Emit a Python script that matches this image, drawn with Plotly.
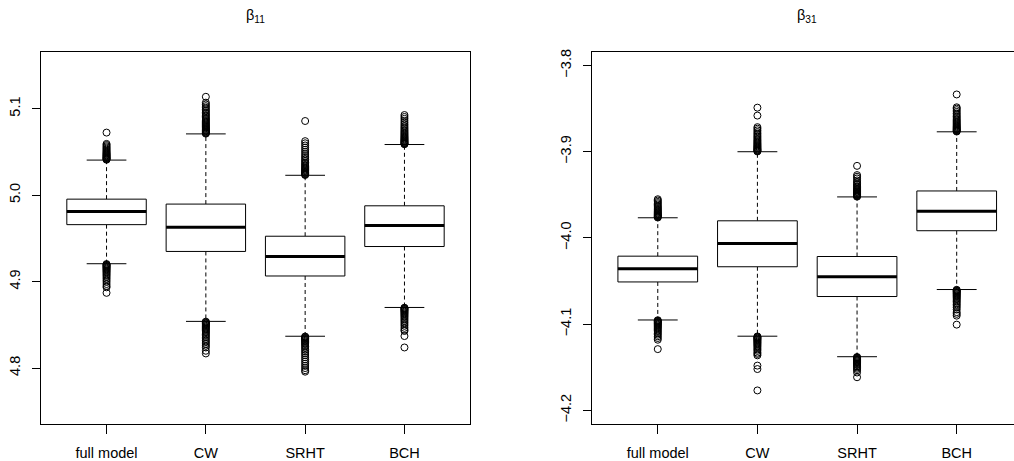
import plotly.graph_objects as go

categories = ["full model", "CW", "SRHT", "BCH"]

# ---- beta_11 ----
b11_q1 = [4.9659, 4.9349, 4.9065, 4.9406]
b11_med = [4.9812, 4.9628, 4.9291, 4.9648]
b11_q3 = [4.9954, 4.9897, 4.9525, 4.9877]
b11_lw = [4.9207, 4.8540, 4.8368, 4.8701]
b11_uw = [5.0406, 5.0709, 5.0230, 5.0586]
b11_out = [
    [5.0410, 5.0416, 5.0422, 5.0428, 5.0434, 5.0440, 5.0447, 5.0454, 5.0461, 5.0468, 5.0476,
     5.0484, 5.0493, 5.0503, 5.0514, 5.0526, 5.0539, 5.0552, 5.0566, 5.0580, 5.0593, 5.0724,
     4.9203, 4.9197, 4.9190, 4.9183, 4.9176, 4.9168, 4.9160, 4.9151, 4.9142, 4.9132, 4.9121,
     4.9110, 4.9097, 4.9083, 4.9068, 4.9052, 4.9034, 4.9015, 4.8995, 4.8972, 4.8950, 4.8934, 4.8870],
    [5.0712, 5.0718, 5.0725, 5.0732, 5.0740, 5.0748, 5.0757, 5.0766, 5.0775, 5.0785, 5.0795,
     5.0806, 5.0817, 5.0829, 5.0841, 5.0854, 5.0867, 5.0881, 5.0895, 5.0910, 5.0925, 5.0941,
     5.0958, 5.0975, 5.0993, 5.1012, 5.1030, 5.1050, 5.1070, 5.1138,
     4.8537, 4.8530, 4.8523, 4.8515, 4.8507, 4.8498, 4.8489, 4.8479, 4.8468, 4.8457, 4.8445,
     4.8432, 4.8418, 4.8404, 4.8389, 4.8373, 4.8356, 4.8338, 4.8319, 4.8300, 4.8280, 4.8258,
     4.8238, 4.8200, 4.8169],
    [5.0233, 5.0239, 5.0246, 5.0253, 5.0261, 5.0269, 5.0278, 5.0287, 5.0297, 5.0308, 5.0320,
     5.0333, 5.0347, 5.0362, 5.0378, 5.0395, 5.0413, 5.0432, 5.0452, 5.0475, 5.0500, 5.0525,
     5.0550, 5.0575, 5.0600, 5.0625, 5.0858,
     4.8365, 4.8358, 4.8351, 4.8343, 4.8335, 4.8326, 4.8316, 4.8305, 4.8293, 4.8280, 4.8266,
     4.8250, 4.8233, 4.8215, 4.8195, 4.8173, 4.8150, 4.8125, 4.8100, 4.8075, 4.8050, 4.8025,
     4.8000, 4.7975, 4.7958],
    [5.0589, 5.0595, 5.0601, 5.0608, 5.0615, 5.0622, 5.0630, 5.0638, 5.0647, 5.0656, 5.0666,
     5.0676, 5.0687, 5.0699, 5.0711, 5.0724, 5.0738, 5.0752, 5.0767, 5.0783, 5.0800, 5.0818,
     5.0838, 5.0860, 5.0883, 5.0905, 5.0927,
     4.8698, 4.8692, 4.8685, 4.8678, 4.8670, 4.8662, 4.8653, 4.8643, 4.8632, 4.8620, 4.8607,
     4.8593, 4.8578, 4.8562, 4.8545, 4.8527, 4.8508, 4.8488, 4.8465, 4.8443, 4.8429, 4.8370, 4.8238],
]

# ---- beta_31 ----
b31_q1 = [-4.0510, -4.0334, -4.0679, -3.9916]
b31_med = [-4.0357, -4.0065, -4.0449, -3.9689]
b31_q3 = [-4.0211, -3.9801, -4.0215, -3.9455]
b31_lw = [-4.0951, -4.1139, -4.1377, -4.0598]
b31_uw = [-3.9766, -3.9000, -3.9524, -3.8769]
b31_out = [
    [-3.9763, -3.9757, -3.9751, -3.9745, -3.9738, -3.9731, -3.9723, -3.9715, -3.9706, -3.9697,
     -3.9687, -3.9676, -3.9665, -3.9653, -3.9640, -3.9627, -3.9612, -3.9597, -3.9582, -3.9566, -3.9551,
     -4.0954, -4.0960, -4.0966, -4.0973, -4.0980, -4.0988, -4.0996, -4.1005, -4.1015, -4.1025,
     -4.1036, -4.1048, -4.1061, -4.1075, -4.1090, -4.1106, -4.1122, -4.1140, -4.1160, -4.1180, -4.1289],
    [-3.8997, -3.8991, -3.8985, -3.8978, -3.8971, -3.8963, -3.8955, -3.8946, -3.8937, -3.8927,
     -3.8916, -3.8905, -3.8893, -3.8880, -3.8867, -3.8853, -3.8838, -3.8822, -3.8806, -3.8789,
     -3.8771, -3.8752, -3.8733, -3.8715, -3.8581, -3.8489,
     -4.1142, -4.1148, -4.1154, -4.1161, -4.1168, -4.1176, -4.1184, -4.1193, -4.1203, -4.1213,
     -4.1224, -4.1236, -4.1249, -4.1263, -4.1278, -4.1294, -4.1310, -4.1330, -4.1345, -4.1361,
     -4.1480, -4.1520, -4.1768],
    [-3.9521, -3.9515, -3.9509, -3.9502, -3.9495, -3.9487, -3.9479, -3.9470, -3.9461, -3.9451,
     -3.9440, -3.9428, -3.9415, -3.9401, -3.9386, -3.9370, -3.9352, -3.9333, -3.9310, -3.9290,
     -3.9271, -3.9164,
     -4.1380, -4.1386, -4.1392, -4.1399, -4.1406, -4.1414, -4.1422, -4.1431, -4.1441, -4.1451,
     -4.1462, -4.1474, -4.1487, -4.1501, -4.1517, -4.1534, -4.1560, -4.1615],
    [-3.8766, -3.8760, -3.8754, -3.8747, -3.8740, -3.8732, -3.8724, -3.8715, -3.8706, -3.8696,
     -3.8685, -3.8674, -3.8662, -3.8650, -3.8637, -3.8623, -3.8608, -3.8592, -3.8575, -3.8557,
     -3.8538, -3.8518, -3.8500, -3.8485, -3.8336,
     -4.0601, -4.0607, -4.0613, -4.0620, -4.0627, -4.0635, -4.0643, -4.0652, -4.0662, -4.0672,
     -4.0683, -4.0695, -4.0708, -4.0722, -4.0737, -4.0753, -4.0770, -4.0788, -4.0807, -4.0830,
     -4.0860, -4.0880, -4.0901, -4.1005],
]

b11_ticks = [4.8, 4.9, 5.0, 5.1]
b11_ticktext = ["4.8", "4.9", "5.0", "5.1"]
b31_ticks = [-4.2, -4.1, -4.0, -3.9, -3.8]
b31_ticktext = ["\u22124.2", "\u22124.1", "\u22124.0", "\u22123.9", "\u22123.8"]

BOXHALF = 0.4
CAPHALF = 0.2
FONT = "Liberation Sans, Arial, sans-serif"

fig = go.Figure()


def add_panel(q1s, meds, q3s, lws, uws, outs, xa, ya):
    for i in range(len(categories)):
        c = i + 1
        q1, med, q3, lw, uw = q1s[i], meds[i], q3s[i], lws[i], uws[i]
        line = dict(color="black", width=1)
        fig.add_trace(go.Scatter(x=[c, c, None, c, c], y=[q3, uw, None, q1, lw], mode="lines",
                                 line=dict(color="black", width=1, dash="4px,3px"),
                                 xaxis=xa, yaxis=ya, hoverinfo="skip", showlegend=False))
        fig.add_trace(go.Scatter(x=[c - CAPHALF, c + CAPHALF, None, c - CAPHALF, c + CAPHALF],
                                 y=[uw, uw, None, lw, lw], mode="lines", line=line,
                                 xaxis=xa, yaxis=ya, hoverinfo="skip", showlegend=False))
        fig.add_trace(go.Scatter(x=[c - BOXHALF, c + BOXHALF, c + BOXHALF, c - BOXHALF, c - BOXHALF],
                                 y=[q1, q1, q3, q3, q1], mode="lines", line=line,
                                 fill="toself", fillcolor="white",
                                 xaxis=xa, yaxis=ya, hoverinfo="skip", showlegend=False))
        fig.add_trace(go.Scatter(x=[c - BOXHALF, c + BOXHALF], y=[med, med], mode="lines",
                                 line=dict(color="black", width=3),
                                 xaxis=xa, yaxis=ya, hoverinfo="skip", showlegend=False))
        fig.add_trace(go.Scatter(x=[c] * len(outs[i]), y=outs[i], mode="markers",
                                 marker=dict(symbol="circle-open", size=7, color="black",
                                             line=dict(width=1, color="black")),
                                 xaxis=xa, yaxis=ya, hoverinfo="skip", showlegend=False))


add_panel(b11_q1, b11_med, b11_q3, b11_lw, b11_uw, b11_out, "x", "y")
add_panel(b31_q1, b31_med, b31_q3, b31_lw, b31_uw, b31_out, "x2", "y2")

W, H = 1014, 461
xcommon = dict(tickmode="array", tickvals=[1, 2, 3, 4], ticktext=categories,
               ticks="outside", ticklen=9, tickcolor="black", tickwidth=1,
               showline=True, linecolor="black", linewidth=1, showgrid=False, zeroline=False,
               tickfont=dict(family=FONT, size=14.5, color="black"), ticklabelstandoff=6)
ycommon = dict(ticks="outside", ticklen=8, tickcolor="black", tickwidth=1,
               showline=True, linecolor="black", linewidth=1, showgrid=False, zeroline=False,
               tickangle=-90, tickfont=dict(family=FONT, size=14.5, color="black"),
               ticklabelstandoff=6)

fig.update_layout(
    width=W, height=H,
    margin=dict(l=0, r=0, t=0, b=0),
    paper_bgcolor="white", plot_bgcolor="white",
    showlegend=False,
    xaxis=dict(xcommon, domain=[41 / W, 470 / W], range=[0.34, 4.66], mirror=True, anchor="y"),
    yaxis=dict(ycommon, domain=[(H - 424) / H, (H - 49) / H], range=[4.735, 5.166],
               tickmode="array", tickvals=b11_ticks, ticktext=b11_ticktext, mirror=True, anchor="x"),
    xaxis2=dict(xcommon, domain=[592 / W, 1.0], range=[0.34, 4.575], mirror=True, anchor="y2"),
    yaxis2=dict(ycommon, domain=[(H - 424) / H, (H - 49) / H], range=[-4.216, -3.784],
                tickmode="array", tickvals=b31_ticks, ticktext=b31_ticktext, mirror=False, anchor="x2"),
    annotations=[
        dict(text="\u03b2<sub>11</sub>", x=255.5 / W, y=1 - 13 / H, xref="paper", yref="paper",
             showarrow=False, xanchor="center", yanchor="middle",
             font=dict(family=FONT, size=14.5, color="black")),
        dict(text="\u03b2<sub>31</sub>", x=807 / W, y=1 - 13 / H, xref="paper", yref="paper",
             showarrow=False, xanchor="center", yanchor="middle",
             font=dict(family=FONT, size=14.5, color="black")),
    ],
)

fig.write_html("out.html", config={"displayModeBar": False, "staticPlot": True},
               post_script="document.body.style.margin='0';document.body.style.overflow='hidden';")
